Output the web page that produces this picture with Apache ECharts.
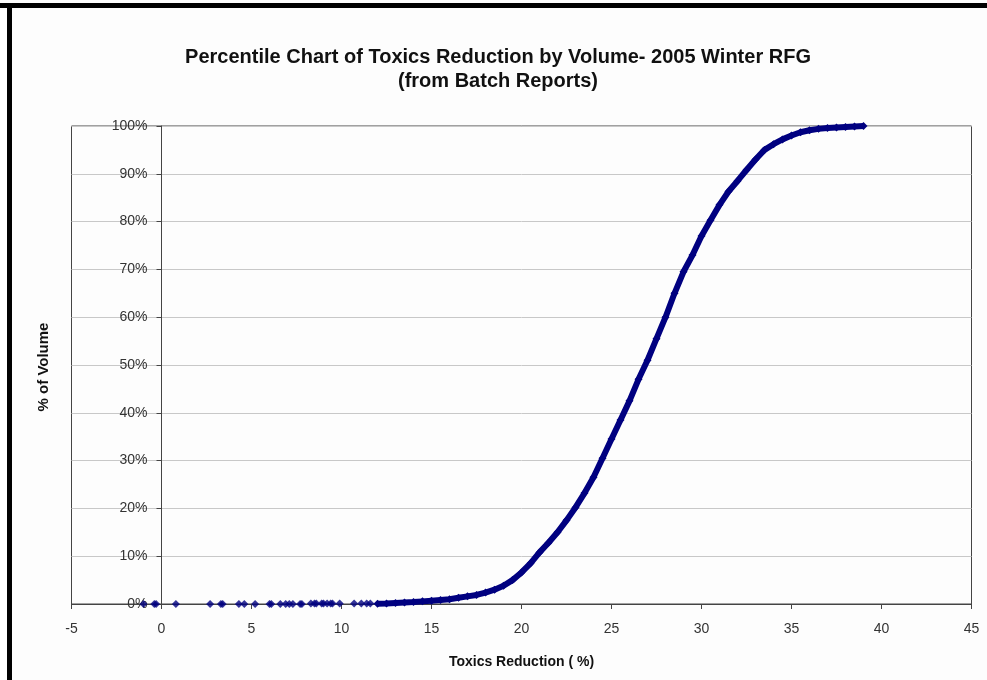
<!DOCTYPE html>
<html>
<head>
<meta charset="utf-8">
<script src="https://cdn.jsdelivr.net/npm/echarts@6/dist/echarts.min.js"></script>
<style>
html,body{margin:0;padding:0;background:#fdfdfd;}
#chart{width:987px;height:680px;}
</style>
</head>
<body>
<div id="chart"></div>
<script>
// Sparse low-end batches (Toxics Reduction %, % of Volume)
const sparseX = [-1.0, -0.4, -0.3, 0.8, 2.7, 3.3, 3.4, 4.3, 4.6, 5.2, 6.0, 6.1, 6.6, 6.9, 7.1, 7.3, 7.7, 7.8,
                 8.3, 8.5, 8.6, 8.9, 9.0, 9.2, 9.4, 9.5, 9.9, 10.7, 11.1, 11.4, 11.6];
const sparseY = [0, 0, 0, 0, 0, 0, 0, 0, 0, 0, 0, 0, 0, 0, 0, 0, 0, 0,
                 0.1, 0.1, 0.1, 0.1, 0.1, 0.1, 0.1, 0.1, 0.1, 0.1, 0.1, 0.1, 0.1];
// Dense cumulative curve
const curveX = [12.0, 12.5, 13.0, 13.5, 14.0, 14.5, 15.0, 15.5, 16.0, 16.5, 17.0, 17.5, 18.0, 18.5, 19.0, 19.5,
                20.0, 20.5, 21.0, 21.5, 22.0, 22.5, 23.0, 23.5, 24.0, 24.5, 25.0, 25.5, 26.0, 26.5, 27.0, 27.5,
                28.0, 28.5, 29.0, 29.5, 30.0, 30.5, 31.0, 31.5, 32.0, 32.5, 33.0, 33.5, 34.0, 34.5, 35.0, 35.5,
                36.0, 36.5, 37.0, 37.5, 38.0, 38.5, 39.0];
const curveY = [0.05, 0.1, 0.2, 0.3, 0.4, 0.55, 0.7, 0.85, 1.0, 1.3, 1.6, 1.9, 2.4, 3.0, 3.8, 5.0,
                6.6, 8.5, 10.8, 12.8, 15.0, 17.5, 20.2, 23.2, 26.5, 30.5, 34.5, 38.5, 42.5, 47.0, 51.0, 55.5,
                60.0, 65.0, 69.5, 73.0, 77.0, 80.3, 83.5, 86.3, 88.5, 90.8, 93.0, 95.0, 96.2, 97.2, 98.0, 98.7,
                99.1, 99.4, 99.6, 99.7, 99.8, 99.9, 100.0];
const xTicks = [-5, 0, 5, 10, 15, 20, 25, 30, 35, 40, 45];
const yTickLabels = ['0%', '10%', '20%', '30%', '40%', '50%', '60%', '70%', '80%', '90%', '100%'];

const titleLines = ['Percentile Chart of Toxics Reduction by Volume- 2005 Winter RFG', '(from Batch Reports)'];
const xName = 'Toxics Reduction ( %)';
const yName = '% of Volume';

const navy = '#000080';
const font = 'Liberation Sans, Arial';
const chart = echarts.init(document.getElementById('chart'), null, {renderer: 'canvas'});
const pair = (xs, ys) => xs.map((x, i) => [x, ys[i]]);

const gridLeft = 71.5, gridRight = 15.5;
const gridWidth = 987 - gridLeft - gridRight;
const xMin = xTicks[0], xMax = xTicks[xTicks.length - 1];
// y axis drawn where x = 0 (as in the original spreadsheet chart)
const yAxisOffset = -gridWidth * (0 - xMin) / (xMax - xMin);

chart.setOption({
  animation: false,
  backgroundColor: '#fdfdfd',
  title: {
    text: titleLines.join('\n'),
    left: 493, top: 40, textAlign: 'center',
    textStyle: {fontFamily: font, fontWeight: 'bold', fontSize: 20, lineHeight: 24, color: '#111'}
  },
  graphic: [
    {type: 'rect', shape: {x: 0, y: 3, width: 987, height: 5}, style: {fill: '#000'}, z: 100},
    {type: 'rect', shape: {x: 7, y: 3, width: 5, height: 677}, style: {fill: '#000'}, z: 100},
    {type: 'text', x: 44, y: 367, rotation: Math.PI / 2,
      style: {text: yName, font: 'bold 15px Liberation Sans, Arial', fill: '#111', align: 'center', verticalAlign: 'middle'}}
  ],
  grid: {left: gridLeft, right: gridRight, top: 126, bottom: 76, show: true, borderColor: '#444', borderWidth: 1, backgroundColor: 'transparent'},
  xAxis: {
    type: 'value', min: xMin, max: xMax, interval: 5,
    name: xName, nameLocation: 'middle', nameGap: 51,
    nameTextStyle: {fontFamily: font, fontWeight: 'bold', fontSize: 14, color: '#111'},
    axisLine: {show: true, lineStyle: {color: '#444', width: 1}},
    axisTick: {show: true, inside: false, length: 5, lineStyle: {color: '#444'}},
    axisLabel: {margin: 18, fontFamily: font, fontSize: 14, color: '#333'},
    splitLine: {show: false}
  },
  yAxis: {
    type: 'value', min: 0, max: 100, interval: 10,
    offset: yAxisOffset,
    axisLine: {show: true, onZero: false, lineStyle: {color: '#444', width: 1}},
    axisTick: {show: true, inside: false, length: 5, lineStyle: {color: '#444'}},
    axisLabel: {margin: 14, fontFamily: font, fontSize: 14, color: '#333',
      formatter: v => yTickLabels[Math.round(v / 10)]},
    splitLine: {show: true, lineStyle: {color: '#c8c8c8', width: 1}}
  },
  series: [
    {type: 'scatter', data: pair(sparseX, sparseY), symbol: 'diamond', symbolSize: 8,
      itemStyle: {color: navy}, z: 5},
    {type: 'line', data: pair(curveX, curveY), symbol: 'diamond', symbolSize: 8, showSymbol: true,
      lineStyle: {color: navy, width: 6}, itemStyle: {color: navy}, z: 5}
  ]
});
</script>
</body>
</html>
